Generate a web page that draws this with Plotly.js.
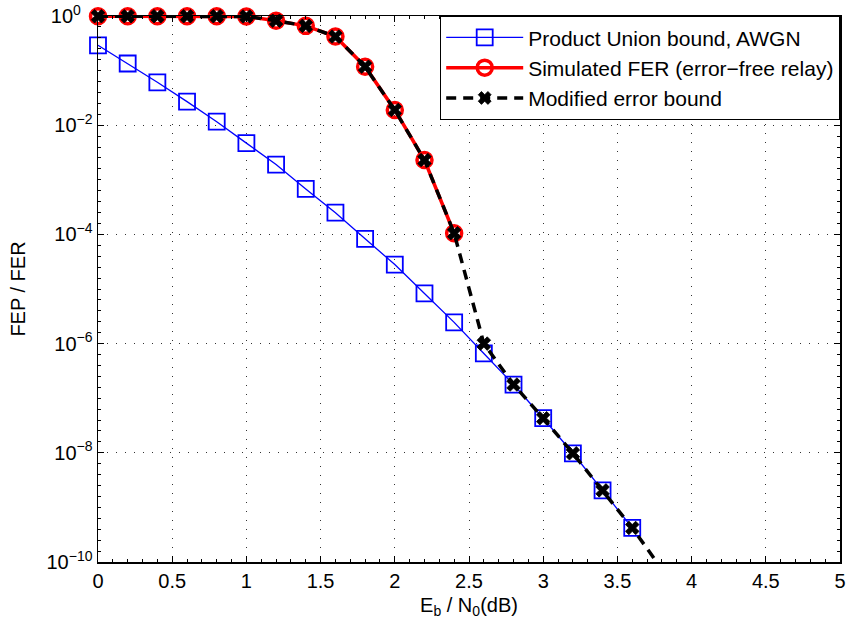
<!DOCTYPE html>
<html>
<head>
<meta charset="utf-8">
<script src="https://cdn.plot.ly/plotly-3.0.1.min.js"></script>
<style>html,body{margin:0;padding:0;background:#fff;}#chart{width:848px;height:628px;}</style>
</head>
<body>
<div id="chart"></div>
<script>
// Eb/N0 (dB)
const ebn0Union = [0,0.2,0.4,0.6,0.8,1.0,1.2,1.4,1.6,1.8,2.0,2.2,2.4,2.6,2.8,3.0,3.2,3.4,3.6];
const fepUnion = [0.29,0.135,0.061,0.027,0.0116,0.0047,0.0019,6.8e-4,2.5e-4,8.3e-5,2.8e-5,8.3e-6,2.45e-6,6.6e-7,1.78e-7,4.3e-8,9.8e-9,2.05e-9,4.2e-10];

const ebn0Sim = [0,0.2,0.4,0.6,0.8,1.0,1.2,1.4,1.6,1.8,2.0,2.2,2.4];
const ferSim = [0.99,0.99,0.99,0.99,0.99,0.98,0.82,0.66,0.42,0.118,0.019,0.0023,1.05e-4];

const ebn0Mod = [0,0.2,0.4,0.6,0.8,1.0,1.2,1.4,1.6,1.8,2.0,2.2,2.4,2.6,2.8,3.0,3.2,3.4,3.6,3.8];
const fepMod = [0.99,0.99,0.99,0.99,0.99,0.98,0.82,0.66,0.42,0.118,0.019,0.0023,1.05e-4,1.0e-6,1.78e-7,4.3e-8,9.8e-9,2.05e-9,4.2e-10,7.4e-11];

const seriesNames = ['Product Union bound, AWGN','Simulated FER (error\u2212free relay)','Modified error bound'];
const yTickVals = [1,1e-2,1e-4,1e-6,1e-8,1e-10];
const yTickText = ['10<sup>0\u00a0\u00a0\u00a0</sup>','10<sup>\u22122</sup>','10<sup>\u22124</sup>','10<sup>\u22126</sup>','10<sup>\u22128</sup>','10<sup>\u221210</sup>'];
const xTickVals = [0,0.5,1,1.5,2,2.5,3,3.5,4,4.5,5];
const yMin = 1e-10;

const traces = [
  {x: ebn0Union, y: fepUnion, name: seriesNames[0], type:'scatter', mode:'lines+markers',
   line:{color:'#0000ff', width:1.3}, cliponaxis:false,
   marker:{symbol:'square-open', size:16, color:'#0000ff', line:{color:'#0000ff', width:1.8}}},
  {x: ebn0Sim, y: ferSim, name: seriesNames[1], type:'scatter', mode:'lines+markers',
   line:{color:'#ff0000', width:3.5}, cliponaxis:false,
   marker:{symbol:'circle-open', size:15, color:'#ff0000', line:{color:'#ff0000', width:3.5}}},
  {x: ebn0Mod, y: fepMod, name: seriesNames[2], type:'scatter', mode:'lines+markers',
   line:{color:'#000000', width:3.5, dash:'10px,7px'}, cliponaxis:false,
   marker:{symbol:'x', size: fepMod.map(v => v < yMin ? 0 : 12), color:'#000000', opacity:1, line:{color:'#000000', width:0.8}}}
];

const font = {family:'"Liberation Sans", Arial, Helvetica, sans-serif', size:20, color:'#000'};

const layout = {
  width:848, height:628,
  margin:{l:98, r:8, t:16, b:66},
  paper_bgcolor:'#fff', plot_bgcolor:'#fff',
  font: font,
  showlegend:true,
  legend:{x:1, xanchor:'right', y:1, yanchor:'top', bgcolor:'#fff', bordercolor:'#000', borderwidth:1.2,
          font:{family:font.family, size:21, color:'#000'}, itemwidth:77, tracegroupgap:0},
  xaxis:{
    range:[0,5], tickmode:'array', tickvals:xTickVals, ticktext:xTickVals.map(String),
    ticks:'inside', ticklen:6, tickwidth:1, tickcolor:'#000',
    showline:true, linecolor:'#000', linewidth:1.5, mirror:'ticks',
    showgrid:true, gridcolor:'#333', gridwidth:1, griddash:'1px,8px',
    zeroline:false,
    minor:{dtick:0.1, ticks:'inside', ticklen:3, tickcolor:'#000', showgrid:false},
    tickfont:{family:font.family, size:20, color:'#000'},
    title:{text:'E<sub>b</sub> / N<sub>0</sub>(dB)', font:{family:font.family, size:20, color:'#000'}, standoff:7}
  },
  yaxis:{
    type:'log', range:[-10,0], tickmode:'array', tickvals:yTickVals, ticktext:yTickText,
    ticks:'inside', ticklen:6, tickwidth:1, tickcolor:'#000',
    showline:true, linecolor:'#000', linewidth:1.5, mirror:'ticks',
    showgrid:true, gridcolor:'#333', gridwidth:1, griddash:'1px,8px',
    zeroline:false,
    minor:{dtick:0.2, ticks:'inside', ticklen:3, tickcolor:'#000', showgrid:false},
    tickfont:{family:font.family, size:20, color:'#000'},
    title:{text:'FEP / FER', font:{family:font.family, size:20, color:'#000'}, standoff:15}
  }
};

Plotly.newPlot('chart', traces, layout, {staticPlot:true, displayModeBar:false});
</script>
</body>
</html>
